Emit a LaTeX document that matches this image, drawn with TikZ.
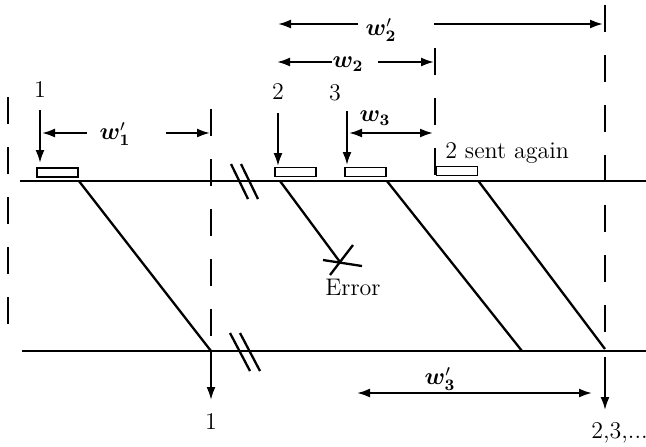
\documentclass[tikz,border=0pt]{standalone}
\usepackage{bm}
\usetikzlibrary{arrows.meta}
\begin{document}
\begin{tikzpicture}[x=0.5pt,y=-0.5pt,
  mainline/.style={line width=1.4pt},
  diag/.style={line width=1.15pt},
  dashv/.style={line width=1.25pt, dash pattern=on 13.5pt off 11.5pt},
  arr/.style={line width=1pt,-{Latex[length=6.5pt,width=4.5pt]}},
  darr/.style={line width=1pt,{Latex[length=6.5pt,width=4.5pt]}-{Latex[length=6.5pt,width=4.5pt]}},
  pkt/.style={draw, line width=0.9pt, rectangle, minimum width=20.5pt, minimum height=4.5pt, inner sep=0pt},
  lbl/.style={inner sep=0pt, font=\fontsize{12}{14}\selectfont}]
\useasboundingbox (0,0) rectangle (646,446);

% time lines
\coordinate (tl) at (20,181); \coordinate (tr) at (646,181);
\coordinate (bl) at (22,351); \coordinate (br) at (646,351);
\draw[mainline] (tl) -- (tr);
\draw[mainline] (bl) -- (br);

% break marks
\draw[diag] (231,164) -- (248,199);
\draw[diag] (241,164) -- (258,199);
\draw[diag] (230,333) -- (250,371);
\draw[diag] (240,333) -- (260,371);

% dashed verticals
\coordinate (v0a) at (8,97);   \coordinate (v0b) at (8,324);
\coordinate (v1a) at (211,109); \coordinate (v1b) at (211,336);
\coordinate (v2a) at (435,48);  \coordinate (v2b) at (435,177);
\coordinate (v3a) at (605,5);   \coordinate (v3b) at (605,336);
\draw[dashv] (v0a) -- (v0b);
\draw[dashv] (v1a) -- (v1b);
\draw[dashv] (v2a) -- (v2b);
\draw[dashv] (v3a) -- (v3b);

% packets
\node[pkt] (box1) at (57.5,172.5) {};
\node[pkt] (box2) at (295.5,172) {};
\node[pkt] (box3) at (365.5,172) {};
\node[pkt] (box4) at (457,171) {};

% transmissions
\coordinate (e1) at (211,351);
\coordinate (s2) at (280,181);
\coordinate (err) at (340,262);
\coordinate (e3) at (522,351);
\coordinate (e4) at (605,349);
\draw[diag] (box1.south east |- tl) -- (e1);
\draw[diag] (s2) -- (err);
\draw[diag] (box3.south east |- tl) -- (e3);
\draw[diag] (box4.south east |- tl) -- (e4);

% error cross
\coordinate (x1a) at (323,260); \coordinate (x1b) at (362,266);
\coordinate (x2a) at (330,275); \coordinate (x2b) at (353,245);
\draw[diag] (x1a) -- (x1b);
\draw[diag] (x2a) -- (x2b);
\node[lbl] (errlbl) at (353,287) {Error};

% sending arrows
\node[lbl] (n1) at (40,90) {1};
\node[lbl] (n2) at (278,92) {2};
\node[lbl] (n3) at (335,93) {3};
\coordinate (a1s) at (40,110);  \coordinate (a1e) at (40,163);
\coordinate (a2s) at (278,113); \coordinate (a2e) at (278,166);
\coordinate (a3s) at (347,111); \coordinate (a3e) at (347,165);
\draw[arr] (a1s) -- (a1e);
\draw[arr] (a2s) -- (a2e);
\draw[arr] (a3s) -- (a3e);
\node[lbl, anchor=base west] (again) at (445,158) {2 sent again};

% receiving arrows
\coordinate (r1s) at (211,351); \coordinate (r1e) at (211,400);
\coordinate (r2s) at (605,357); \coordinate (r2e) at (605,410);
\draw[arr] (r1s) -- (r1e);
\draw[arr] (r2s) -- (r2e);
\node[lbl] (o1) at (211,422) {1};
\node[lbl, anchor=west] (o2) at (591,433) {2,3,...};

% windows
\node[lbl] (w1) at (115,134) {$\bm{w}^{\prime}_{\bm{1}}$};
\coordinate (w1l) at (87,133);  \coordinate (w1lt) at (42,133);
\coordinate (w1r) at (166,133); \coordinate (w1rt) at (210,133);
\draw[arr] (w1l) -- (w1lt);
\draw[arr] (w1r) -- (w1rt);

\node[lbl] (w2) at (348,64) {$\bm{w}_{\bm{2}}$};
\coordinate (w2l) at (332,62);  \coordinate (w2lt) at (277,62);
\coordinate (w2r) at (378,62);  \coordinate (w2rt) at (434,62);
\draw[arr] (w2l) -- (w2lt);
\draw[arr] (w2r) -- (w2rt);

\node[lbl] (w2p) at (381,30) {$\bm{w}^{\prime}_{\bm{2}}$};
\coordinate (w2pl) at (358,24);  \coordinate (w2plt) at (278,24);
\coordinate (w2pr) at (434,24);  \coordinate (w2prt) at (603,24);
\draw[arr] (w2pl) -- (w2plt);
\draw[arr] (w2pr) -- (w2prt);

\node[lbl] (w3) at (375,118) {$\bm{w}_{\bm{3}}$};
\coordinate (w3l) at (349,133); \coordinate (w3r) at (433,133);
\draw[darr] (w3l) -- (w3r);

\node[lbl] (w3p) at (440,379) {$\bm{w}^{\prime}_{\bm{3}}$};
\coordinate (w3pl) at (357,393); \coordinate (w3pr) at (592,393);
\draw[darr] (w3pl) -- (w3pr);
\end{tikzpicture}
\end{document}
